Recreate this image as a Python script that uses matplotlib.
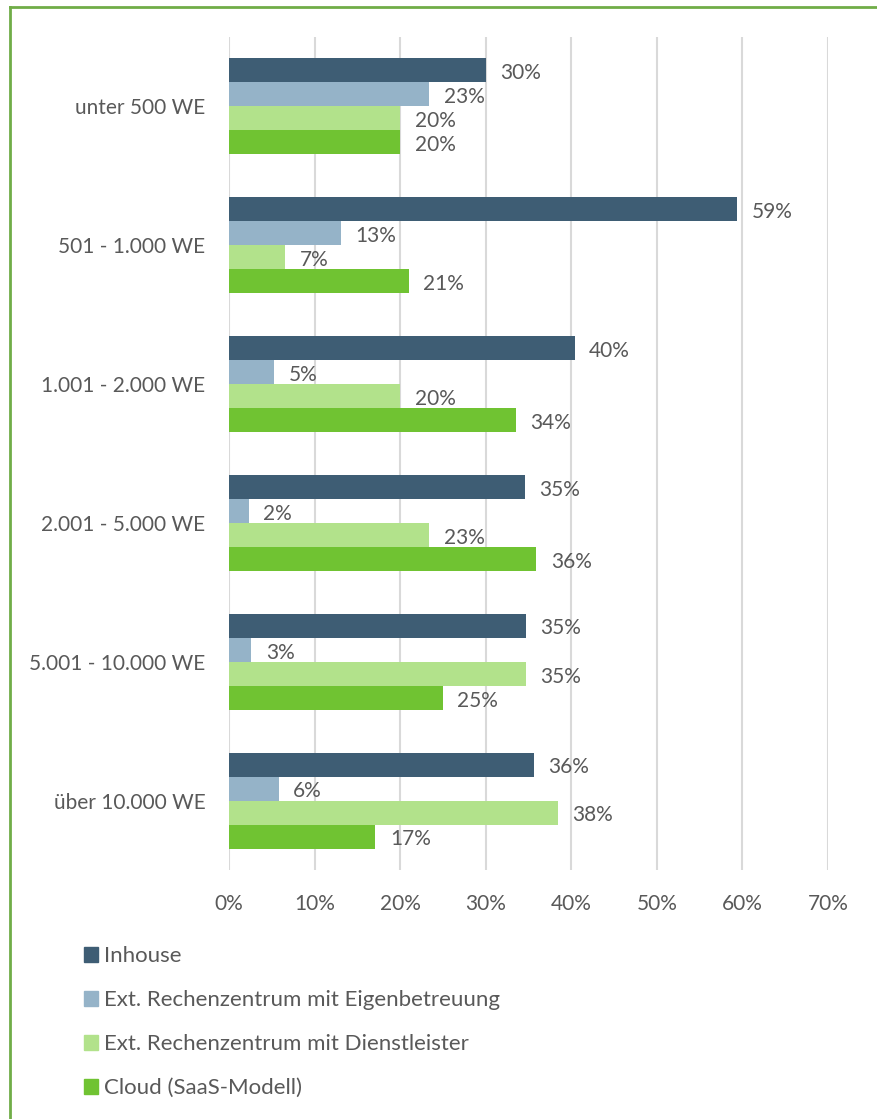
import matplotlib.pyplot as plt
from matplotlib.patches import Patch
from matplotlib.lines import Line2D
import numpy as np

categories = ["unter 500 WE", "501 - 1.000 WE", "1.001 - 2.000 WE",
              "2.001 - 5.000 WE", "5.001 - 10.000 WE", "über 10.000 WE"]
series_names = ["Inhouse", "Ext. Rechenzentrum mit Eigenbetreuung",
                "Ext. Rechenzentrum mit Dienstleister", "Cloud (SaaS-Modell)"]
inhouse = [30.0, 59.4, 40.4, 34.6, 34.7, 35.6]
eigen = [23.4, 13.1, 5.3, 2.3, 2.6, 5.8]
dienst = [20.0, 6.6, 20.0, 23.4, 34.7, 38.4]
cloud = [20.0, 21.0, 33.5, 35.9, 25.0, 17.1]
xticks = [0, 10, 20, 30, 40, 50, 60, 70]

colors = ["#3E5D74", "#95B3C8", "#B2E28B", "#70C332"]
text_col = "#595959"
fs = 15
plt.rcParams['font.family'] = ['Lato', 'DejaVu Sans']

fig = plt.figure(figsize=(8.77, 11.19), dpi=100)
ax = fig.add_axes([229/877, 1 - 870/1119, (828-229)/877, (870-37)/1119])

y = np.arange(len(categories))
h = 0.173
for i, vals in enumerate([inhouse, eigen, dienst, cloud]):
    pos = y + (i - 1.5) * h
    ax.barh(pos, vals, height=h, color=colors[i], zorder=2)
    for p, v in zip(pos, vals):
        ax.text(v + 1.7, p + 0.02, f"{round(v)}%", va="center", ha="left",
                fontsize=fs, color=text_col)

ax.set_xlim(0, 70)
ax.set_ylim(len(categories) - 0.5, -0.5)
ax.set_xticks(xticks)
ax.set_xticklabels([f"{t}%" for t in xticks], fontsize=fs, color=text_col)
ax.set_yticks(y)
ax.set_yticklabels(categories, fontsize=fs, color=text_col)
ax.tick_params(length=0)
ax.tick_params(axis="x", pad=17)
ax.tick_params(axis="y", pad=17)
ax.xaxis.grid(True, color="#D9D9D9", linewidth=1.5, zorder=0)
for s in ax.spines.values():
    s.set_visible(False)

handles = [Patch(color=c) for c in colors]
fig.legend(handles, series_names, loc="upper left",
           bbox_to_anchor=(73/877, 1 - 935/1119), frameon=False,
           fontsize=16, labelcolor=text_col, handlelength=0.63,
           handleheight=0.63, handletextpad=0.28, labelspacing=1.08,
           borderpad=0)

# green frame (left and top edge visible)
fig.add_artist(Line2D([10/877, 10/877], [0, 1 - 7/1119], color="#70AD47",
                      linewidth=2, transform=fig.transFigure))
fig.add_artist(Line2D([10/877, 1], [1 - 7/1119, 1 - 7/1119], color="#70AD47",
                      linewidth=2, transform=fig.transFigure))

fig.savefig("out.png", dpi=100)
